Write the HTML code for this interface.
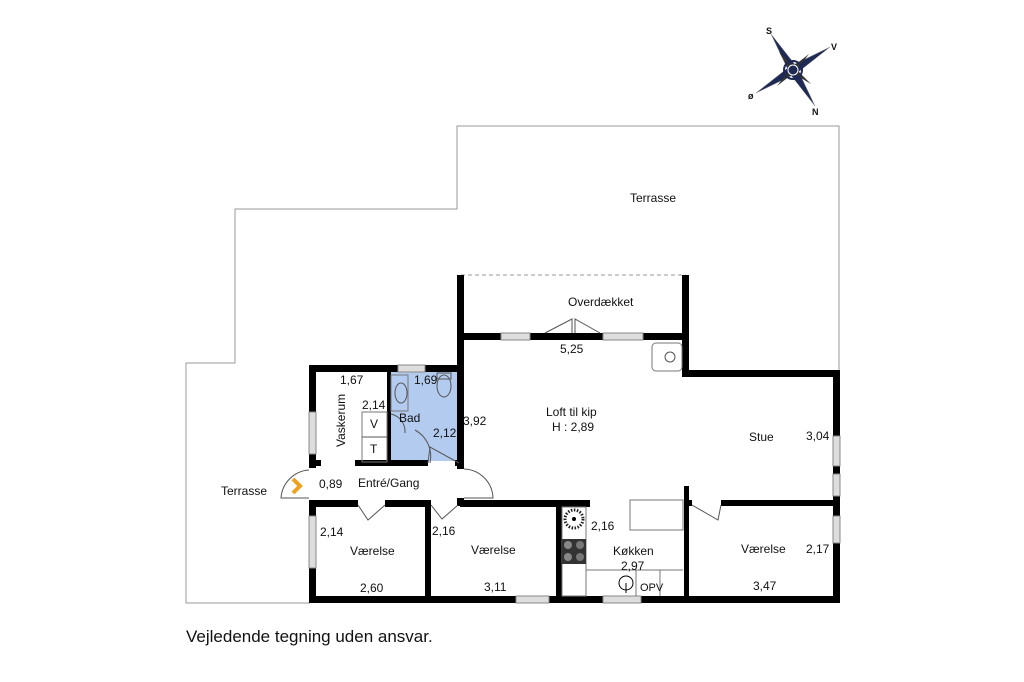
<!DOCTYPE html>
<html><head><meta charset="utf-8"><style>
html,body{margin:0;padding:0;background:#fff;}
svg{display:block;}
text{font-family:"Liberation Sans",Arial,sans-serif;font-size:12px;fill:#111;}
</style></head><body>
<svg width="1024" height="682" viewBox="0 0 1024 682" xmlns="http://www.w3.org/2000/svg">
<polyline points="310,603 186,603 186,363 235,363 235,209 457,209 457,126 839,126 839,372" fill="none" stroke="#999" stroke-width="1"/>
<line x1="461" y1="275" x2="686" y2="275" stroke="#999" stroke-dasharray="4,3" stroke-width="1"/>
<rect x="391" y="372" width="68" height="89" fill="#b3cbef"/>
<g fill="#000">
<rect x="309" y="596" width="531" height="7"/>
<rect x="833" y="370" width="7" height="233"/>
<rect x="683" y="370" width="157" height="7"/>
<rect x="682" y="275" width="7" height="102"/>
<rect x="457" y="275" width="7" height="194"/>
<rect x="461" y="333" width="228" height="7"/>
<rect x="309" y="365" width="155" height="7"/>
<rect x="309" y="365" width="7" height="103"/>
<rect x="309" y="500" width="7" height="103"/>
<rect x="387" y="368" width="4" height="97"/>
<rect x="309" y="460" width="12" height="6"/>
<rect x="355" y="460" width="73" height="6"/>
<rect x="455" y="460" width="6" height="6"/>
<rect x="316" y="500" width="42" height="7"/>
<rect x="385" y="500" width="45" height="7"/>
<rect x="460" y="500" width="130" height="7"/>
<rect x="425" y="500" width="6" height="100"/>
<rect x="457" y="498" width="7" height="8"/>
<rect x="556" y="503" width="6" height="97"/>
<rect x="684" y="486" width="5" height="115"/>
<rect x="685" y="500" width="7" height="6"/>
<rect x="721" y="500" width="115" height="6"/>
</g>
<g fill="#ddd" stroke="#888" stroke-width="1">
<rect x="501" y="333" width="29" height="7"/>
<rect x="603" y="333" width="40" height="7"/>
<rect x="398" y="365" width="27" height="7"/>
<rect x="309" y="412" width="7" height="42"/>
<rect x="309" y="516" width="7" height="52"/>
<rect x="516" y="596" width="33" height="7"/>
<rect x="603" y="596" width="38" height="7"/>
<rect x="833" y="436" width="7" height="30"/>
<rect x="833" y="474" width="7" height="22"/>
<rect x="833" y="516" width="7" height="27"/>
</g>
<g fill="none" stroke="#555" stroke-width="1">
<polyline points="545,333 572,319 572,333"/>
<polyline points="600,333 575,319 575,333"/>
<path d="M309,470 A30,30 0 0 0 281,498 L309,498"/>
<path d="M464,469 A30,30 0 0 1 493,498 L464,498"/>
<path d="M358,505 L368,520 L385,505"/>
<path d="M431,505 L442,519 L458,505"/>
<path d="M692,505 L718,520 L721,505"/>
<path d="M428,463 L430,447 L459,463"/>
<path d="M430,463 A30,30 0 0 0 415,430"/>
<path d="M391,414 A18,18 0 0 1 405,433"/>
<rect x="391" y="375" width="17" height="36" stroke="#777"/>
<ellipse cx="401" cy="393" rx="6" ry="10"/>
<ellipse cx="444" cy="386" rx="7" ry="11"/>
<rect x="437" y="373" width="14" height="6"/>
<rect x="362" y="412" width="25" height="50" stroke="#777"/>
<line x1="362" y1="437" x2="387" y2="437"/>
<rect x="652" y="343" width="30" height="28" rx="4" stroke="#777"/>
<circle cx="670" cy="357" r="5"/>
<rect x="562" y="507" width="24" height="89" stroke="#777"/>
<line x1="586" y1="570" x2="683" y2="570" stroke="#777"/>
<line x1="636" y1="570" x2="636" y2="596" stroke="#777"/>
<line x1="660" y1="570" x2="660" y2="596" stroke="#777"/>
<rect x="630" y="500" width="53" height="30" stroke="#777"/>
<circle cx="626" cy="583" r="7" stroke="#000"/>
<line x1="626" y1="583" x2="626" y2="593" stroke="#000"/>
</g>
<circle cx="574" cy="519" r="9" fill="#fff" stroke="#222" stroke-width="3" stroke-dasharray="1.5,1.5"/>
<circle cx="574" cy="519" r="2" fill="#000"/>
<rect x="562" y="539" width="24" height="25" fill="#333"/>
<circle cx="568" cy="545" r="4" fill="#888"/><circle cx="580" cy="545" r="4" fill="#777"/>
<circle cx="568" cy="557" r="4" fill="#888"/><circle cx="580" cy="557" r="4" fill="#777"/>
<polyline points="293,479 300,486 293,493" fill="none" stroke="#f0a020" stroke-width="4"/>
<g transform="translate(793,70)">
<polygon points="-22,-36 3,-4 -3,4" fill="#1e2a55" stroke="#888" stroke-width="0.5"/>
<polygon points="22,36 -3,4 3,-4" fill="#1e2a55" stroke="#888" stroke-width="0.5"/>
<polygon points="37,-23 4,3 -4,-3" fill="#1e2a55" stroke="#888" stroke-width="0.5"/>
<polygon points="-37,23 -4,-3 4,3" fill="#1e2a55" stroke="#888" stroke-width="0.5"/>
<polygon points="-14,-18 2,-2 -2,2" fill="#333"/>
<polygon points="18,14 -2,2 2,-2" fill="#333"/>
<polygon points="16,-16 2,2 -2,-2" fill="#333"/>
<polygon points="-16,16 -2,-2 2,2" fill="#333"/>
<circle r="9" fill="none" stroke="#1e2a55" stroke-width="2"/>
<circle r="5" fill="#1e2a55" stroke="#fff" stroke-width="1"/>
</g>
<text x="766" y="34" style="font-size:9px;font-weight:bold">S</text>
<text x="831" y="50" style="font-size:9px;font-weight:bold">V</text>
<text x="748" y="99" style="font-size:9px;font-weight:bold">ø</text>
<text x="812" y="115" style="font-size:9px;font-weight:bold">N</text>
<text x="630" y="202">Terrasse</text>
<text x="568" y="306">Overdækket</text>
<text x="560" y="353">5,25</text>
<text x="546" y="416">Loft til kip</text>
<text x="552" y="431">H : 2,89</text>
<text x="463" y="425">3,92</text>
<text x="749" y="441">Stue</text>
<text x="806" y="440">3,04</text>
<text x="340" y="384">1,67</text>
<text x="414" y="384">1,69</text>
<text x="362" y="409">2,14</text>
<text x="399" y="422">Bad</text>
<text x="433" y="437">2,12</text>
<text x="370" y="428">V</text>
<text x="370" y="453">T</text>
<text transform="translate(345,447) rotate(-90)">Vaskerum</text>
<text x="221" y="495">Terrasse</text>
<text x="319" y="488">0,89</text>
<text x="358" y="487">Entré/Gang</text>
<text x="320" y="536">2,14</text>
<text x="350" y="555">Værelse</text>
<text x="360" y="592">2,60</text>
<text x="432" y="535">2,16</text>
<text x="471" y="554">Værelse</text>
<text x="484" y="591">3,11</text>
<text x="591" y="530">2,16</text>
<text x="613" y="555">Køkken</text>
<text x="621" y="570">2,97</text>
<text x="640" y="591" style="font-size:11px">OPV</text>
<text x="741" y="553">Værelse</text>
<text x="806" y="553">2,17</text>
<text x="753" y="590">3,47</text>
<text x="186" y="642" style="font-size:17px">Vejledende tegning uden ansvar.</text>
</svg>
</body></html>
